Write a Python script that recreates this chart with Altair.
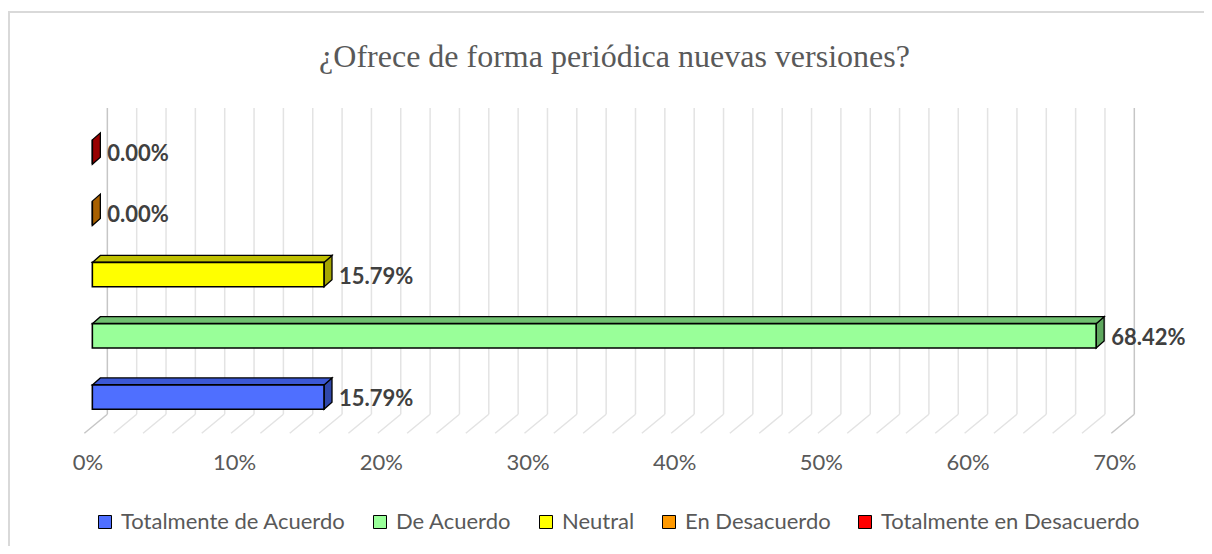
import altair as alt
import pandas as pd

# ---------------- data ----------------
title_text = "¿Ofrece de forma periódica nuevas versiones?"
categories = ["Totalmente de Acuerdo", "De Acuerdo", "Neutral",
              "En Desacuerdo", "Totalmente en Desacuerdo"]
values = [15.79, 68.42, 15.79, 0.00, 0.00]
tick_values = [0, 10, 20, 30, 40, 50, 60, 70]
grid_values = list(range(0, 72, 2))

# ---------------- styles ----------------
front_colors = ["#4F6FFF", "#99FF99", "#FFFF00", "#FF9900", "#FF0000"]
top_colors = ["#3B58D6", "#70C070", "#BFBF00", "#C07000", "#B00000"]
side_colors = ["#2F47AA", "#5FA85F", "#A6A600", "#A86000", "#980000"]

PLOT_W, PLOT_H = 1137, 340
X_DOMAIN = [-3.5, 74]
Y_DOMAIN = [-0.7, 4.85]
PX_X = PLOT_W / (X_DOMAIN[1] - X_DOMAIN[0])
PX_Y = PLOT_H / (Y_DOMAIN[1] - Y_DOMAIN[0])

HALF = 12.2 / PX_Y      # half height of bar front face
DX = 8 / PX_X           # bar depth (x)
DY = 7 / PX_Y           # bar depth (y)
WALL_DX = 15 / PX_X     # back wall offset from bar front
FLOOR_DX = -8 / PX_X    # floor front offset from bar front
WALL_TOP = 4.72
WALL_BOTTOM = -0.28
FLOOR_FRONT = -0.59

# ---------------- tables ----------------
bars = pd.DataFrame({"cat": categories, "value": values,
                     "idx": list(range(len(categories)))})
bars["y0"] = bars["idx"] - HALF
bars["y1"] = bars["idx"] + HALF
bars["zero"] = 0.0

top_rows, side_rows = [], []
for c, v, i in zip(categories, values, range(len(categories))):
    y0, y1 = i - HALF, i + HALF
    if v > 0:
        pts = [(0.0, y1, y1), (DX, y1 + DY, y1), (v, y1 + DY, y1), (v + DX, y1 + DY, y1 + DY)]
        for k, (x, ya, yb) in enumerate(pts):
            top_rows.append({"cat": c, "k": k, "x": x, "ya": ya, "yb": yb})
    for k, (x, ya, yb) in enumerate([(v, y1, y0), (v + DX, y1 + DY, y0 + DY)]):
        side_rows.append({"cat": c, "k": k, "x": x, "ya": ya, "yb": yb})
top_df = pd.DataFrame(top_rows)
side_df = pd.DataFrame(side_rows)

grid = pd.DataFrame({"v": grid_values})
grid["xb"] = grid["v"] + WALL_DX
grid["xf"] = grid["v"] + FLOOR_DX
grid["yt"] = WALL_TOP
grid["yb"] = WALL_BOTTOM
grid["yf"] = FLOOR_FRONT

FONT = "Lato"
xs = alt.Scale(domain=X_DOMAIN, nice=False, zero=False)
ys = alt.Scale(domain=Y_DOMAIN, nice=False, zero=False)
x_axis = alt.Axis(values=tick_values, labelExpr="datum.value + '%'", domain=False,
                  ticks=False, grid=False, labelFont=FONT, labelFontSize=22,
                  labelColor="#595959", labelPadding=12, labelOffset=-5,
                  labelFlush=False, title=None)


def X(field):
    return alt.X(field, scale=xs, axis=x_axis)


def Y(field):
    return alt.Y(field, scale=ys, axis=None)


edge = "datum.v == 0 || datum.v == 70"
gcolor = alt.condition(edge, alt.value("#C6C6C6"), alt.value("#E3E3E3"))

wall = alt.Chart(grid).mark_rule(strokeWidth=1.5).encode(
    x=X("xb:Q"), y=Y("yb:Q"), y2="yt:Q", color=gcolor)
floor = alt.Chart(grid).mark_rule(strokeWidth=1.5).encode(
    x=X("xb:Q"), x2="xf:Q", y=Y("yb:Q"), y2="yf:Q", color=gcolor)

side = alt.Chart(side_df).mark_area(stroke="black", strokeWidth=1.3, interpolate="linear",
                                    orient="vertical").encode(
    x=X("x:Q"), y=Y("ya:Q"), y2="yb:Q",
    detail="cat:N",
    fill=alt.Fill("cat:N", scale=alt.Scale(domain=categories, range=side_colors), legend=None),
)
top = alt.Chart(top_df).mark_area(stroke="black", strokeWidth=1.3, interpolate="linear",
                                  orient="vertical").encode(
    x=X("x:Q"), y=Y("ya:Q"), y2="yb:Q",
    detail="cat:N",
    fill=alt.Fill("cat:N", scale=alt.Scale(domain=categories, range=top_colors), legend=None),
)

front = alt.Chart(bars).mark_rect(stroke="black", strokeWidth=1.6).encode(
    x=X("zero:Q"), x2="value:Q", y=Y("y0:Q"), y2="y1:Q",
    color=alt.Color("cat:N", scale=alt.Scale(domain=categories, range=front_colors),
                    legend=alt.Legend(
                        orient="none", legendX=53, legendY=411, direction="horizontal",
                        columns=5, title=None, symbolType="square", symbolSize=169,
                        symbolStrokeColor="black", symbolStrokeWidth=1,
                        labelFont=FONT, labelFontSize=22, labelColor="#595959",
                        labelLimit=400, columnPadding=23, labelOffset=5)),
)

labels = alt.Chart(bars).transform_calculate(
    label="format(datum.value, '.2f') + '%'"
).mark_text(align="left", baseline="middle", dx=15, dy=2, font=FONT,
            fontSize=22, fontWeight="bold", color="#404040").encode(
    x=X("value:Q"), y=Y("idx:Q"), text="label:N")

frame = alt.Chart(alt.Data(values=[{}])).mark_rect(
    fill="transparent", stroke="#D9D9D9", strokeWidth=2).encode(
    x=alt.value(-32), x2=alt.value(1400), y=alt.value(-88), y2=alt.value(700))

chart = alt.layer(frame, wall, floor, side, top, front, labels).resolve_scale(
    color="independent", fill="independent"
).properties(
    width=PLOT_W, height=PLOT_H,
    background="white",
    title=alt.TitleParams(text=title_text, font="Liberation Serif", fontSize=32,
                          fontWeight="normal", color="#595959", anchor="middle",
                          frame="group", baseline="alphabetic", offset=-88, dx=5),
    autosize=alt.AutoSizeParams(type="none"),
    padding={"left": 33, "top": 92, "right": 26, "bottom": 106},
).configure_view(strokeWidth=0, stroke="transparent")

chart.save("out.html", embed_options={"renderer": "svg", "actions": False})
